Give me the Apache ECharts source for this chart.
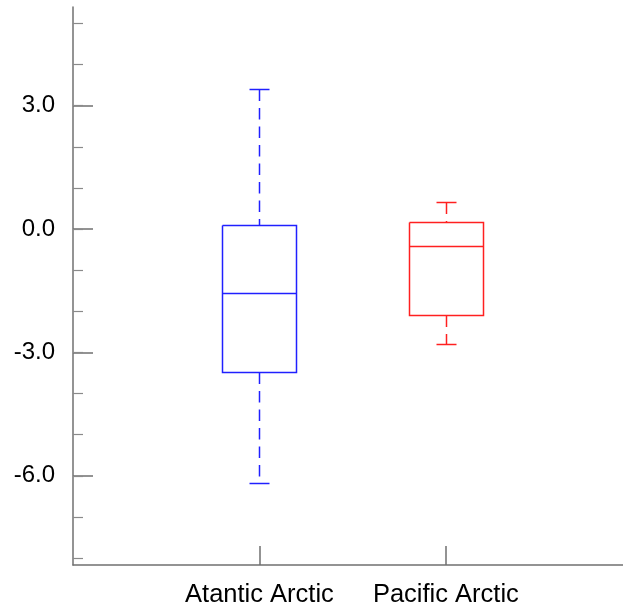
<!DOCTYPE html>
<html>
<head>
<meta charset="utf-8">
<script src="https://cdn.jsdelivr.net/npm/echarts@6/dist/echarts.min.js"></script>
<style>
  html, body { margin: 0; padding: 0; background: #fff; }
  #main { width: 623px; height: 612px; }
</style>
</head>
<body>
<div id="main"></div>
<script>
// data
const categories = ['Atantic Arctic', 'Pacific Arctic']
const positions = [1, 2]
const lowWhisker = [-6.18, -2.80]
const q1 = [-3.48, -2.10]
const median = [-1.56, -0.41]
const q3 = [0.10, 0.17]
const highWhisker = [3.40, 0.65]
const majorTicks = [-6, -3, 0, 3]
const minorTicks = [-8, -7, -6, -5, -4, -3, -2, -1, 0, 1, 2, 3, 4, 5]
const colors = ['#2020ff', '#ff2020']

const axisGray = '#707070'
const font = 'Liberation Sans, Arial, Helvetica, sans-serif'

const crisp = (v) => Math.round(v) + 0.5

function makeRenderer(color) {
  return function (params, api) {
    const x = api.value(0)
    const cx = crisp(api.coord([x, 0])[0])
    const yLo = crisp(api.coord([x, api.value(1)])[1])
    const yQ1 = crisp(api.coord([x, api.value(2)])[1])
    const yMed = crisp(api.coord([x, api.value(3)])[1])
    const yQ3 = crisp(api.coord([x, api.value(4)])[1])
    const yHi = crisp(api.coord([x, api.value(5)])[1])
    const hw = 37, cw = 10
    const line = (pts, dash) => ({
      type: 'polyline',
      shape: { points: pts },
      style: dash ? { stroke: color, lineWidth: 1.5, lineDash: dash, fill: 'none' } : { stroke: color, lineWidth: 1.5, fill: 'none' }
    })
    return {
      type: 'group',
      children: [
        line([[cx - hw, yQ3], [cx + hw, yQ3], [cx + hw, yQ1], [cx - hw, yQ1], [cx - hw, yQ3]]),
        line([[cx - hw, yMed], [cx + hw, yMed]]),
        line([[cx, yHi], [cx, yQ3]], [11.5, 7]),
        line([[cx, yQ1], [cx, yLo]], [11.5, 7]),
        line([[cx - cw, yHi], [cx + cw, yHi]]),
        line([[cx - cw, yLo], [cx + cw, yLo]])
      ]
    }
  }
}

const series = positions.map((p, i) => ({
  type: 'custom',
  name: categories[i],
  renderItem: makeRenderer(colors[i]),
  encode: { x: 0, y: [1, 2, 3, 4, 5] },
  data: [[p, lowWhisker[i], q1[i], median[i], q3[i], highWhisker[i]]]
}))

const chart = echarts.init(document.getElementById('main'))
chart.setOption({
  animation: false,
  grid: { left: 73, right: 0, top: 7, bottom: 47 },
  xAxis: {
    type: 'value',
    min: 0,
    max: 2.95,
    splitLine: { show: false },
    axisLine: { show: true, onZero: false, lineStyle: { color: axisGray, width: 1.5 } },
    axisTick: { show: true, inside: true, length: 19, customValues: positions, lineStyle: { color: axisGray, width: 1.5 } },
    axisLabel: {
      customValues: positions,
      formatter: (v) => categories[positions.indexOf(v)] || '',
      color: '#000',
      fontSize: 25.5,
      fontFamily: font,
      margin: 17
    }
  },
  yAxis: [
    {
      type: 'value',
      min: -8.17,
      max: 5.4,
      position: 'left',
      splitLine: { show: false },
      axisLine: { show: true, onZero: false, lineStyle: { color: axisGray, width: 1.5 } },
      axisTick: { show: true, inside: true, length: 20, customValues: majorTicks, lineStyle: { color: axisGray, width: 1.5 } },
      axisLabel: {
        customValues: majorTicks,
        formatter: (v) => v.toFixed(1),
        color: '#000',
        fontSize: 24,
        fontFamily: font,
        margin: 18
      }
    },
    {
      type: 'value',
      min: -8.17,
      max: 5.4,
      position: 'left',
      splitLine: { show: false },
      axisLine: { show: false },
      axisTick: { show: true, inside: true, length: 10, customValues: minorTicks, lineStyle: { color: '#8a8a8a', width: 1.2 } },
      axisLabel: { show: false }
    }
  ],
  series: series
})
</script>
</body>
</html>
